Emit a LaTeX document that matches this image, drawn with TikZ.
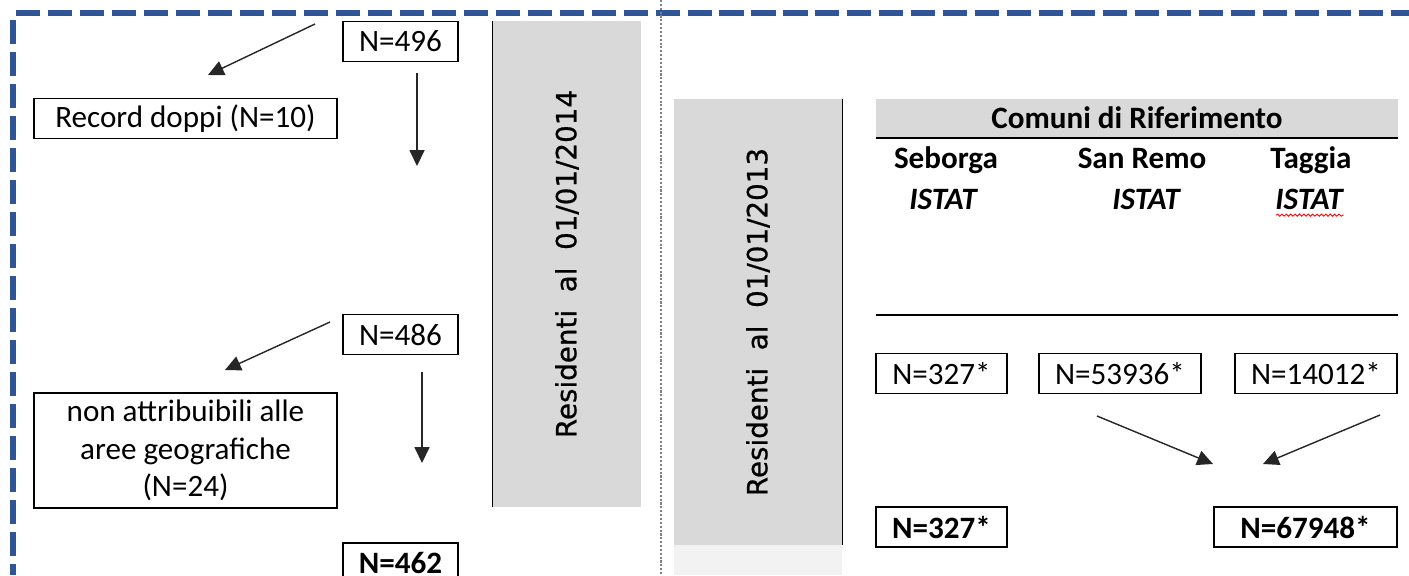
\documentclass[tikz,border=0pt]{standalone}
\usepackage{fontspec}
\setmainfont{Carlito}
\newfontfamily\vertfont[FakeBold=0.7]{DejaVu Sans}
\usetikzlibrary{arrows.meta,decorations.pathmorphing}
\definecolor{frameblue}{HTML}{2F5597}
\definecolor{bandgray}{HTML}{D9D9D9}
\definecolor{palegray}{HTML}{F2F2F2}
\newcommand\txtsize{\fontsize{17.7}{21.3}\selectfont}
\tikzset{
  >={Triangle[length=9pt,width=8.5pt]},
  every node/.style={font=\txtsize},
  bold/.style={font=\bfseries\txtsize},
  bolditalic/.style={font=\bfseries\itshape\txtsize, anchor=base},
  box/.style={draw, line width=0.9pt, inner sep=0pt, minimum width=2.3cm, minimum height=0.8cm},
  band/.style={fill=bandgray, rotate=90, inner sep=0pt, font=\vertfont\fontsize{15.8}{19}\selectfont},
  flow/.style={->, line width=0.8pt, draw=black!85},
  frame/.style={draw=frameblue, line width=3.4pt, dash pattern=on 13.7pt off 4.5pt},
  spell/.style={draw=red, line width=0.5pt, decorate, decoration={snake, amplitude=0.6pt, segment length=2.5pt}}
}
\begin{document}
\begin{tikzpicture}[x=0.02cm, y=-0.02cm]
  \useasboundingbox (0,0) rectangle (1409,575);
  \draw[frame] (16,13) -- (1409,13);
  \draw[frame] (13,20) -- (13,575);
  \draw[gray, line width=1pt, dash pattern=on 1.2pt off 1pt] (661,0) -- (661,575);

  \node[band, minimum width=9.72cm, minimum height=2.96cm] (res14) at (567,264) {Residenti~~al~~01/01/2014};
  \node[band, minimum width=8.92cm, minimum height=3.36cm] (res13) at (758,322) {Residenti~~al~~01/01/2013};
  \fill[palegray] (674,545) rectangle (842,575);
  \draw[line width=0.9pt] (res14.north west) -- (res14.north east);
  \draw[line width=0.9pt] (res13.south west) -- (res13.south east);

  \node[box]                                     (n496)  at (400.5, 41.5) {N=496};
  \node[box, minimum width=6.06cm]               (dopp)  at (185.5,118.5) {Record doppi (N=10)};
  \node[box]                                     (n486)  at (400.5,334.5) {N=486};
  \node[box, minimum width=6.06cm, minimum height=2.3cm, align=center]
                                                 (attr)  at (185.5,450.5) {non attribuibili alle\\aree geografiche\\(N=24)};
  \node[box, bold]                               (n462)  at (400.5,563)   {N=462};

  \coordinate (a1s) at (315, 24);  \coordinate (a1e) at (208, 75);
  \coordinate (a2s) at (417, 73);  \coordinate (a2e) at (417,166);
  \coordinate (a3s) at (330,322);  \coordinate (a3e) at (225,370);
  \coordinate (a4s) at (422,372);  \coordinate (a4e) at (422,463);
  \draw[flow] (a1s) -- (a1e);
  \draw[flow] (a2s) -- (a2e);
  \draw[flow] (a3s) -- (a3e);
  \draw[flow] (a4s) -- (a4e);

  \node[bold, fill=bandgray, inner sep=0pt, minimum width=10.44cm, minimum height=0.78cm]
        (hdr) at (1137,118) {Comuni di Riferimento};
  \draw[line width=1.1pt] (hdr.south west) -- (hdr.south east);
  \node[bold, anchor=base] (seb) at ( 946,168) {Seborga};
  \node[bold, anchor=base] (sre) at (1142,168) {San Remo};
  \node[bold, anchor=base] (tag) at (1311,168) {Taggia};
  \node[bolditalic] (istA) at ( 943,209) {ISTAT};
  \node[bolditalic] (istB) at (1146,209) {ISTAT};
  \node[bolditalic] (istC) at (1309,209) {ISTAT};
  \draw[spell] ([xshift=4pt,yshift=-3.5pt]istC.base west) -- ([xshift=-3pt,yshift=-3.5pt]istC.base east);
  \draw[line width=0.9pt] (876,315) -- (1398,315);

  \node[box, minimum width=2.62cm]       (sebN) at ( 941.5,373.5) {N=327*};
  \node[box, minimum width=3.24cm]       (sreN) at (1120,  373.5) {N=53936*};
  \node[box, minimum width=3.24cm]       (tagN) at (1316,  373.5) {N=14012*};
  \node[box, bold, minimum width=2.62cm] (sebT) at ( 941.5,527)   {N=327*};
  \node[box, bold, minimum width=3.66cm] (sumT) at (1305.5,527)   {N=67948*};

  \coordinate (a5s) at (1097,416);  \coordinate (a5e) at (1213,464);
  \coordinate (a6s) at (1380,415);  \coordinate (a6e) at (1263,464);
  \draw[flow] (a5s) -- (a5e);
  \draw[flow] (a6s) -- (a6e);
\end{tikzpicture}
\end{document}
